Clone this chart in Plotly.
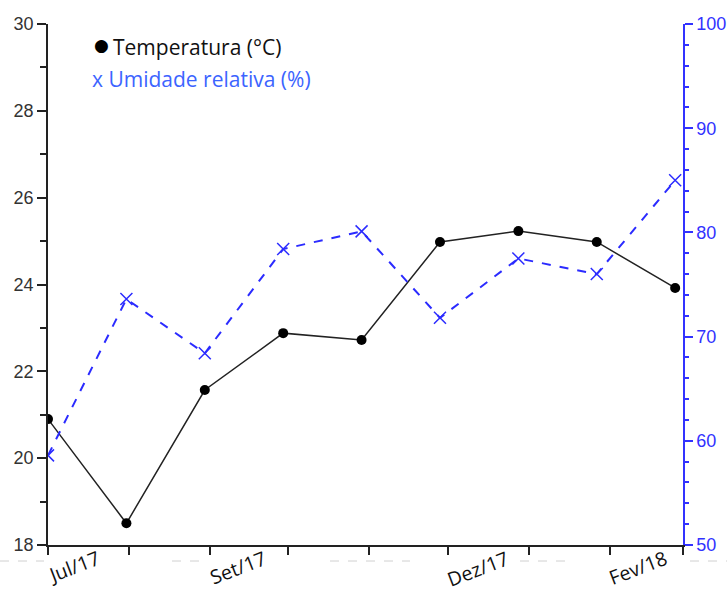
import plotly.graph_objects as go

# Monthly readings
dates = ["2017-07-01", "2017-07-31", "2017-08-30", "2017-09-29", "2017-10-29",
         "2017-11-28", "2017-12-28", "2018-01-27", "2018-02-26"]
temperatura = [20.9, 18.5, 21.57, 22.88, 22.72, 24.98, 25.23, 24.98, 23.92]
umidade = [58.6, 73.6, 68.4, 78.4, 80.1, 71.8, 77.5, 76.0, 85.0]

# Month ticks on the time axis and the labels that are shown
month_ticks = ["2017-07-01", "2017-08-01", "2017-09-01", "2017-10-01", "2017-11-01",
               "2017-12-01", "2018-01-01", "2018-02-01", "2018-03-01"]
label_dates = ["2017-07-01", "2017-09-01", "2017-12-01", "2018-02-01"]
label_texts = ["Jul/17", "Set/17", "Dez/17", "Fev/18"]

BLUE_AXIS = "#3232ff"
BLUE_LINE = "#2b2bff"
BLUE_TEXT = "#3c64ff"
LABEL_FONT = "'Open Sans', 'Noto Sans', sans-serif"

fig = go.Figure()

fig.add_trace(go.Scatter(
    x=dates, y=temperatura, mode="lines+markers", yaxis="y",
    line=dict(color="#222222", width=1.5),
    marker=dict(symbol="circle", size=10, color="black"),
    showlegend=False,
))

fig.add_trace(go.Scatter(
    x=dates, y=umidade, mode="lines+markers", yaxis="y2",
    line=dict(color=BLUE_LINE, width=2, dash="dash"),
    marker=dict(symbol="x-thin", size=12, line=dict(color=BLUE_LINE, width=1.5)),
    showlegend=False,
))

annotations = []
for d, t in zip(label_dates, label_texts):
    annotations.append(dict(
        x=d, xref="x", y=0, yref="paper", text=t, showarrow=False,
        textangle=-21, xanchor="left", yanchor="top", xshift=-7, yshift=3,
        font=dict(family=LABEL_FONT, size=19.5, color="#111111"),
    ))

# Legend drawn as text lines
annotations.append(dict(
    x=0.0, xref="paper", y=1.0, yref="paper", xshift=44, yshift=-9,
    xanchor="left", yanchor="top", showarrow=False,
    text="\u25CF",
    font=dict(family="'DejaVu Sans', sans-serif", size=17, color="#000000"),
))
annotations.append(dict(
    x=0.0, xref="paper", y=1.0, yref="paper", xshift=63, yshift=-7,
    xanchor="left", yanchor="top", showarrow=False,
    text="Temperatura (°C)",
    font=dict(family=LABEL_FONT, size=21, color="#111111"),
))
annotations.append(dict(
    x=0.0, xref="paper", y=1.0, yref="paper", xshift=42, yshift=-39,
    xanchor="left", yanchor="top", showarrow=False,
    text="x Umidade relativa (%)",
    font=dict(family=LABEL_FONT, size=21, color=BLUE_TEXT),
))

# Faint dashed remnants below the time axis
shapes = []
for x0, x1 in [(0, 44), (172, 205), (330, 410), (520, 570), (690, 727)]:
    shapes.append(dict(
        type="line", xref="paper", yref="paper",
        x0=(x0 - 48) / 635, x1=(x1 - 48) / 635,
        y0=-16 / 521, y1=-16 / 521,
        line=dict(color="#d0d0d0", width=1, dash="dash"),
        layer="below",
    ))

fig.update_layout(
    width=727, height=592,
    margin=dict(l=48, r=44, t=24, b=47, autoexpand=False),
    paper_bgcolor="white", plot_bgcolor="white",
    font=dict(family="'Liberation Sans', Arial, sans-serif"),
    xaxis=dict(
        type="date", range=["2017-07-01", "2018-03-01"],
        tickvals=month_ticks, ticktext=[""] * len(month_ticks),
        ticks="outside", ticklen=8, tickwidth=1.5, tickcolor="#222222",
        showline=True, linecolor="#222222", linewidth=1.5,
        showgrid=False, zeroline=False, automargin=False,
    ),
    yaxis=dict(
        range=[18, 30], dtick=2, tick0=18,
        ticks="outside", ticklen=9, tickwidth=1.5, tickcolor="#222222",
        minor=dict(dtick=1, ticks="outside", ticklen=6, tickcolor="#222222", tickwidth=1.5),
        showline=True, linecolor="#222222", linewidth=1.5,
        showgrid=False, zeroline=False, automargin=False,
        tickfont=dict(size=18, color="#333333"),
    ),
    yaxis2=dict(
        range=[50, 100], dtick=10, tick0=50, overlaying="y", side="right",
        ticks="outside", ticklen=8, tickwidth=1.5, tickcolor=BLUE_AXIS,
        minor=dict(dtick=2, ticks="outside", ticklen=4, tickcolor=BLUE_AXIS, tickwidth=1.5),
        showline=True, linecolor=BLUE_AXIS, linewidth=1.5,
        showgrid=False, zeroline=False, automargin=False,
        tickfont=dict(size=18, color=BLUE_AXIS),
    ),
    annotations=annotations,
    shapes=shapes,
)

fig.write_html("out.html")
